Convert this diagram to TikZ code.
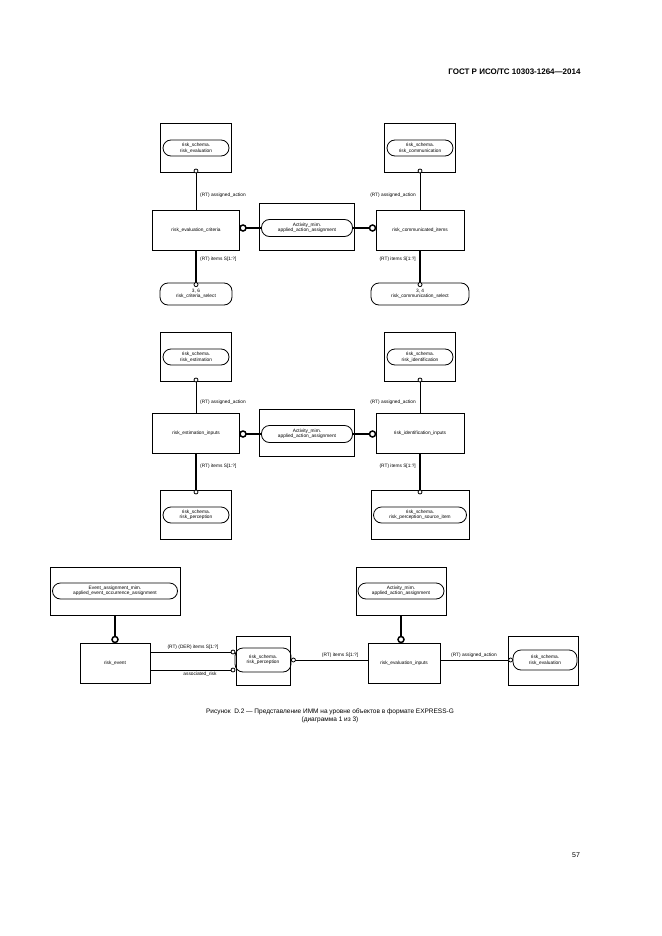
\documentclass[tikz,border=0pt]{standalone}
\usepackage{fontspec}
\setmainfont{Liberation Sans}
\begin{document}
\begin{tikzpicture}[x=1pt,y=-1pt,
  ent/.style={draw,line width=1pt,minimum width=70pt,minimum height=40pt,font=\fontsize{4.8}{5.5}\selectfont,align=center},
  ref/.style={draw,line width=0.8pt,rounded corners=8pt,font=\fontsize{4.8}{5.5}\selectfont,align=center,inner sep=1.5pt},
  lab/.style={font=\fontsize{4.8}{5.5}\selectfont,inner sep=1pt},
  ln/.style={line width=0.8pt},
  tk/.style={line width=1.6pt},
  oc/.style={draw,fill=white,circle,inner sep=0pt,minimum size=4pt,line width=0.8pt},
  boc/.style={draw,fill=white,circle,inner sep=0pt,minimum size=6pt,line width=1.5pt}]
\useasboundingbox (0,0) rectangle (661,936);
\node[anchor=east,font=\bfseries\fontsize{8}{9}\selectfont] (hdr) at (584,72) {ГОСТ Р ИСО/ТС 10303-1264—2014};
% ===== section 1 =====
\node[draw,line width=1pt,minimum width=71pt,minimum height=49pt] (b1) at (196,148) {};
\node[ref,minimum width=66pt,minimum height=16pt] (r1) at (196,148) {risk\_schema.\\risk\_evaluation};
\node[draw,line width=1pt,minimum width=71pt,minimum height=49pt] (b2) at (420,148) {};
\node[ref,minimum width=66pt,minimum height=16pt] (r2) at (420,148) {risk\_schema.\\risk\_communication};
\node[ent,minimum width=87pt] (e1) at (196,230) {risk\_evaluation\_criteria};
\node[ent,minimum width=88pt] (e2) at (420,230) {risk\_communicated\_items};
\node[draw,line width=1pt,minimum width=95pt,minimum height=47pt] (m1) at (307,227) {};
\node[ref,minimum width=91pt,minimum height=17pt] (mr1) at (307,228) {Activity\_mim.\\applied\_action\_assignment};
\node[ref,minimum width=72pt,minimum height=22pt] (s1) at (196,294) {3, 6\\risk\_criteria\_select};
\node[ref,minimum width=98pt,minimum height=22pt] (s2) at (420,294) {3, 4\\risk\_communication\_select};
\draw[ln] (e1.north) -- (b1.south) node[oc,pos=1,yshift=2pt]{};
\draw[ln] (e2.north) -- (b2.south) node[oc,pos=1,yshift=2pt]{};
\draw[tk] (e1.south) -- (s1.north) node[oc,pos=1,yshift=-2pt]{};
\draw[tk] (e2.south) -- (s2.north) node[oc,pos=1,yshift=-2pt]{};
\draw[tk] (mr1.west) -- (mr1.west -| e1.east) node[boc,pos=1,xshift=3pt]{};
\draw[tk] (mr1.east) -- (mr1.east -| e2.west) node[boc,pos=1,xshift=-3pt]{};
\node[lab,anchor=west] (l1) at (199,195) {(RT) assigned\_action};
\node[lab,anchor=east] (l2) at (417,195) {(RT) assigned\_action};
\node[lab,anchor=west] (l3) at (199,259) {(RT) items S[1:?]};
\node[lab,anchor=east] (l4) at (417,259) {(RT) items S[1:?]};
% ===== section 2 =====
\node[draw,line width=1pt,minimum width=71pt,minimum height=49pt] (b3) at (196,357) {};
\node[ref,minimum width=66pt,minimum height=16pt] (r3) at (196,357) {risk\_schema.\\risk\_estimation};
\node[draw,line width=1pt,minimum width=71pt,minimum height=49pt] (b4) at (420,357) {};
\node[ref,minimum width=66pt,minimum height=16pt] (r4) at (420,357) {risk\_schema.\\risk\_identification};
\node[ent,minimum width=87pt] (e3) at (196,433) {risk\_estimation\_inputs};
\node[ent,minimum width=88pt] (e4) at (420,433) {risk\_identification\_inputs};
\node[draw,line width=1pt,minimum width=95pt,minimum height=47pt] (m2) at (307,433) {};
\node[ref,minimum width=91pt,minimum height=17pt] (mr2) at (307,434) {Activity\_mim.\\applied\_action\_assignment};
\node[draw,line width=1pt,minimum width=71pt,minimum height=49pt] (b5) at (196,515) {};
\node[ref,minimum width=66pt,minimum height=16pt] (r5) at (196,515) {risk\_schema.\\risk\_perception};
\node[draw,line width=1pt,minimum width=98pt,minimum height=49pt] (b6) at (420,515) {};
\node[ref,minimum width=93pt,minimum height=16pt] (r6) at (420,515) {risk\_schema.\\risk\_perception\_source\_item};
\draw[ln] (e3.north) -- (b3.south) node[oc,pos=1,yshift=2pt]{};
\draw[ln] (e4.north) -- (b4.south) node[oc,pos=1,yshift=2pt]{};
\draw[tk] (e3.south) -- (b5.north) node[oc,pos=1,yshift=-2pt]{};
\draw[tk] (e4.south) -- (b6.north) node[oc,pos=1,yshift=-2pt]{};
\draw[tk] (mr2.west) -- (mr2.west -| e3.east) node[boc,pos=1,xshift=3pt]{};
\draw[tk] (mr2.east) -- (mr2.east -| e4.west) node[boc,pos=1,xshift=-3pt]{};
\node[lab,anchor=west] (l5) at (199,402) {(RT) assigned\_action};
\node[lab,anchor=east] (l6) at (417,402) {(RT) assigned\_action};
\node[lab,anchor=west] (l7) at (199,466) {(RT) items S[1:?]};
\node[lab,anchor=east] (l8) at (417,466) {(RT) items S[1:?]};
% ===== section 3 =====
\node[draw,line width=1pt,minimum width=130pt,minimum height=48pt] (b7) at (115,591) {};
\node[ref,minimum width=125pt,minimum height=16pt] (r7) at (115,591) {Event\_assignment\_mim.\\applied\_event\_occurrence\_assignment};
\node[draw,line width=1pt,minimum width=90pt,minimum height=48pt] (b8) at (401,591) {};
\node[ref,minimum width=86pt,minimum height=16pt] (r8) at (401,591) {Activity\_mim.\\applied\_action\_assignment};
\node[ent,minimum width=70pt] (e5) at (115,663) {risk\_event};
\node[ent,minimum width=72pt] (e6) at (404,663) {risk\_evaluation\_inputs};
\node[draw,line width=1pt,minimum width=54pt,minimum height=49pt] (b9) at (263,661) {};
\node[ref,minimum width=56pt,minimum height=24pt] (r9) at (263,660) {risk\_schema.\\risk\_perception};
\node[draw,line width=1pt,minimum width=70pt,minimum height=49pt] (b10) at (543,661) {};
\node[ref,minimum width=64pt,minimum height=20pt] (r10) at (545,660) {risk\_schema.\\risk\_evaluation};
\draw[tk] (b7.south) -- (e5.north) node[boc,pos=1,yshift=3pt]{};
\draw[tk] (b8.south) -- (b8.south |- e6.north) node[boc,pos=1,yshift=3pt]{};
\coordinate (p1) at (235,652);
\coordinate (p2) at (235,670);
\draw[ln] (e5.east |- p1) -- (p1) node[oc,pos=1,xshift=-2pt]{};
\draw[ln] (e5.east |- p2) -- (p2) node[oc,pos=1,xshift=-2pt]{};
\draw[ln] (e6.west |- r9.east) -- (r9.east) node[oc,pos=1,xshift=2pt]{};
\draw[ln] (e6.east |- r10.west) -- (r10.west) node[oc,pos=1,xshift=-2pt]{};
\node[lab,anchor=south] (l9) at (193,651) {(RT) (DER) items S[1:?]};
\node[lab,anchor=north] (l10) at (200,671) {associated\_risk};
\node[lab,anchor=south] (l11) at (340,659) {(RT) items S[1:?]};
\node[lab,anchor=south] (l12) at (474,659) {(RT) assigned\_action};
% caption
\node[font=\fontsize{6.5}{8}\selectfont,align=center] (cap) at (330,716) {Рисунок\ \ D.2 — Представление ИММ на уровне объектов в формате EXPRESS-G\\(диаграмма 1 из 3)};
\node[font=\fontsize{7}{8}\selectfont] (pg) at (576,855) {57};
\end{tikzpicture}
\end{document}
